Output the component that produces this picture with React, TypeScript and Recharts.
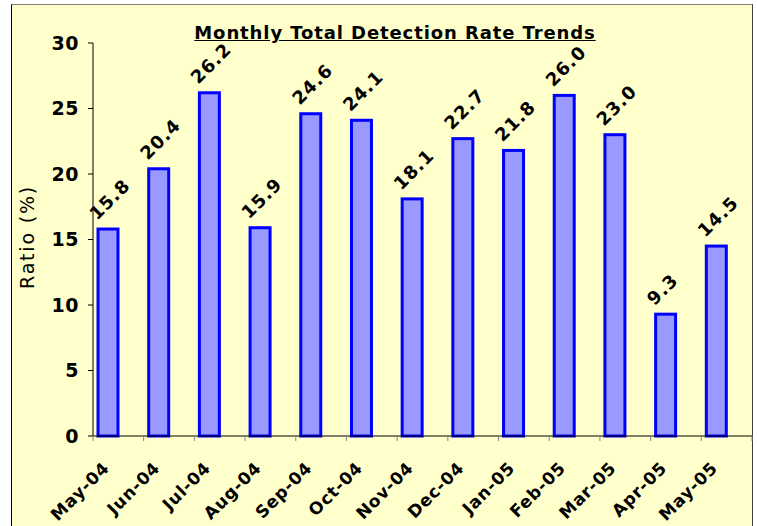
import { BarChart, Bar, XAxis, YAxis } from 'recharts'

const months = [
  'May-04', 'Jun-04', 'Jul-04', 'Aug-04', 'Sep-04', 'Oct-04', 'Nov-04',
  'Dec-04', 'Jan-05', 'Feb-05', 'Mar-05', 'Apr-05', 'May-05',
]
const ratios = [15.8, 20.4, 26.2, 15.9, 24.6, 24.1, 18.1, 22.7, 21.8, 26.0, 23.0, 9.3, 14.5]
const yTicks = [0, 5, 10, 15, 20, 25, 30]

const data = months.map((month, i) => ({ month, ratio: ratios[i] }))

const W = 757
const H = 526
const PLOT_LEFT = 93
const PLOT_RIGHT = 752
const PLOT_TOP = 43
const PLOT_BOTTOM = 436
const BAND = (PLOT_RIGHT - PLOT_LEFT) / months.length
// bars sit left of the category centre, like the Excel original
const SHIFT = -10
const FONT = '"DejaVu Sans", Verdana, sans-serif'

const ShiftedBar = (props: any) => {
  const { x, y, width, height } = props
  return (
    <rect
      x={x + SHIFT}
      y={y}
      width={width}
      height={height}
      fill="#9999FF"
      stroke="#0000FF"
      strokeWidth={3}
    />
  )
}

const ValueLabel = (props: any) => {
  const { x, y, value } = props
  const lx = x + SHIFT - 1
  const ly = y - 8
  return (
    <text
      x={lx}
      y={ly}
      transform={`rotate(-45 ${lx} ${ly})`}
      fontFamily={FONT}
      fontWeight="bold"
      fontSize={18}
      fill="#000"
      letterSpacing={1}
    >
      {Number(value).toFixed(1)}
    </text>
  )
}

const XTick = (props: any) => {
  const { x, payload, index } = props
  const left = x - BAND / 2
  const lx = x + SHIFT + 2
  const ly = PLOT_BOTTOM + 33
  return (
    <g>
      <line x1={left} x2={left} y1={PLOT_BOTTOM} y2={PLOT_BOTTOM + 5} stroke="#808080" />
      {index === months.length - 1 && (
        <line
          x1={x + BAND / 2}
          x2={x + BAND / 2}
          y1={PLOT_BOTTOM}
          y2={PLOT_BOTTOM + 5}
          stroke="#808080"
        />
      )}
      <text
        x={lx}
        y={ly}
        transform={`rotate(-45 ${lx} ${ly})`}
        textAnchor="end"
        fontFamily={FONT}
        fontWeight="bold"
        fontSize={17}
        fill="#000"
        letterSpacing={0.8}
      >
        {payload.value}
      </text>
    </g>
  )
}

const YLabel = () => {
  const cx = 27
  const cy = 237
  return (
    <text
      x={cx}
      y={cy}
      transform={`rotate(-90 ${cx} ${cy})`}
      textAnchor="middle"
      dominantBaseline="central"
      fontFamily={FONT}
      fontSize={19}
      fill="#000"
      letterSpacing={1.8}
    >
      Ratio (%)
    </text>
  )
}

export default function App() {
  return (
    <div style={{ position: 'absolute', left: 0, top: 0, width: W, height: H }}>
      <div
        style={{
          position: 'absolute',
          left: 11,
          top: 4,
          width: 742,
          height: H - 4,
          boxSizing: 'border-box',
          background: '#FFFFCC',
          borderLeft: '1px solid #000',
          borderTop: '1px solid #808080',
          borderRight: '1px solid #404040',
        }}
      />
      <div
        style={{
          position: 'absolute',
          left: 0,
          top: 24,
          width: 790,
          textAlign: 'center',
          fontFamily: FONT,
          fontWeight: 'bold',
          fontSize: 18,
          lineHeight: '18px',
          letterSpacing: 0.9,
          textDecoration: 'underline',
          color: '#000',
        }}
      >
        Monthly Total Detection Rate Trends
      </div>
      <div style={{ position: 'absolute', left: 0, top: 0 }}>
        <BarChart
          width={W}
          height={H}
          data={data}
          margin={{ top: PLOT_TOP, right: W - PLOT_RIGHT, bottom: 0, left: 0 }}
        >
          <XAxis
            dataKey="month"
            height={H - PLOT_BOTTOM}
            interval={0}
            tickLine={false}
            axisLine={{ stroke: '#000' }}
            tick={<XTick />}
          />
          <YAxis
            width={PLOT_LEFT}
            domain={[0, 30]}
            ticks={yTicks}
            interval={0}
            tickSize={5}
            tickMargin={9}
            tickLine={{ stroke: '#000' }}
            axisLine={{ stroke: '#000' }}
            tick={{ fill: '#000', fontSize: 19, fontWeight: 'bold', fontFamily: FONT, letterSpacing: 0.5 }}
            label={<YLabel />}
          />
          <Bar
            dataKey="ratio"
            barSize={20}
            isAnimationActive={false}
            shape={<ShiftedBar />}
            label={<ValueLabel />}
          />
        </BarChart>
      </div>
    </div>
  )
}
